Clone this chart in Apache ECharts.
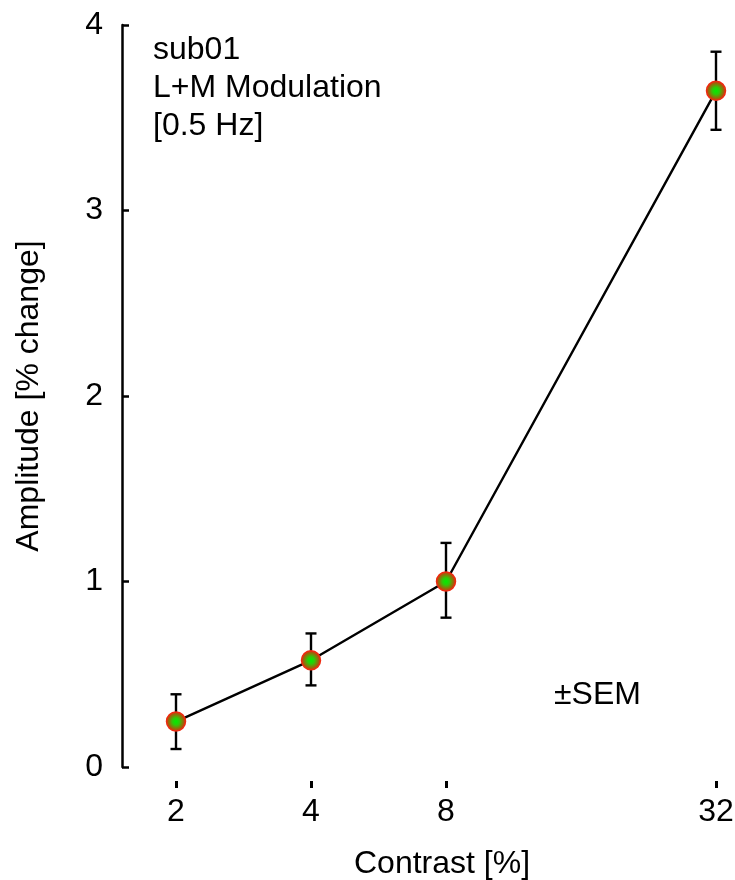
<!DOCTYPE html>
<html>
<head>
<meta charset="utf-8">
<script src="https://cdn.jsdelivr.net/npm/echarts@6/dist/echarts.min.js"></script>
<style>
  html, body { margin: 0; padding: 0; background: #fff; }
  #chart { width: 735px; height: 880px; }
</style>
</head>
<body>
<div id="chart"></div>
<script>
// ---- data ----
const contrast = [2, 4, 8, 32];
const amplitude = [0.245, 0.575, 1.0, 3.645];
const semUpper = [0.392, 0.72, 1.208, 3.856];
const semLower = [0.097, 0.44, 0.805, 3.435];
const xTickValues = [2, 4, 8, 32];
const annotationLines = ['sub01', 'L+M Modulation', '[0.5 Hz]'];
const semLabel = '\u00B1SEM';
const xTitle = 'Contrast [%]';
const yTitle = 'Amplitude [% change]';

const FONT = '"Liberation Sans", Arial, Helvetica, sans-serif';

const pointData = contrast.map((c, i) => [c, amplitude[i]]);
const errData = contrast.map((c, i) => [c, semLower[i], semUpper[i]]);

const chart = echarts.init(document.getElementById('chart'), null, { renderer: 'canvas' });

const option = {
  backgroundColor: '#ffffff',
  animation: false,
  grid: { left: 122, right: 5, top: 25, bottom: 113, containLabel: false, outerBoundsMode: 'none' },
  xAxis: {
    type: 'log',
    logBase: 2,
    min: Math.pow(2, 0.6),
    max: Math.pow(2, 5.1037),
    offset: 21,
    name: xTitle,
    nameLocation: 'middle',
    nameGap: 60,
    nameTextStyle: { fontFamily: FONT, fontSize: 32, color: '#000', padding: [0, 0, 0, 32] },
    axisLine: { show: false, onZero: false },
    axisTick: { show: true, inside: true, length: 7, lineStyle: { color: '#000', width: 3 }, customValues: xTickValues },
    axisLabel: { show: true, margin: 8, fontFamily: FONT, fontSize: 32, color: '#000', customValues: xTickValues },
    splitLine: { show: false },
    minorTick: { show: false }
  },
  yAxis: {
    type: 'value',
    min: 0,
    max: 4,
    interval: 1,
    name: yTitle,
    nameLocation: 'middle',
    nameGap: 77,
    nameRotate: 90,
    nameTextStyle: { fontFamily: FONT, fontSize: 32, color: '#000' },
    axisLine: { show: true, onZero: false, lineStyle: { color: '#000', width: 2.5 } },
    axisTick: { show: true, inside: true, length: 7, lineStyle: { color: '#000', width: 2.5 } },
    axisLabel: { margin: 19, fontFamily: FONT, fontSize: 32, color: '#000' },
    splitLine: { show: false }
  },
  graphic: [
    {
      type: 'text',
      left: 153,
      top: 31,
      z: 10,
      style: {
        text: annotationLines.join('\n'),
        font: '32px ' + FONT,
        lineHeight: 38,
        fill: '#000'
      }
    },
    {
      type: 'text',
      left: 554,
      top: 679,
      z: 10,
      style: {
        text: semLabel,
        font: '32px ' + FONT,
        fill: '#000'
      }
    }
  ],
  series: [
    {
      type: 'custom',
      z: 1,
      data: errData,
      renderItem: function (params, api) {
        const x = api.value(0);
        const lo = api.coord([x, api.value(1)]);
        const hi = api.coord([x, api.value(2)]);
        const hw = 5.5;
        const style = { stroke: '#000', lineWidth: 2.4, fill: null };
        return {
          type: 'group',
          children: [
            { type: 'line', shape: { x1: lo[0], y1: lo[1], x2: hi[0], y2: hi[1] }, style: style },
            { type: 'line', shape: { x1: lo[0] - hw, y1: lo[1], x2: lo[0] + hw, y2: lo[1] }, style: style },
            { type: 'line', shape: { x1: hi[0] - hw, y1: hi[1], x2: hi[0] + hw, y2: hi[1] }, style: style }
          ]
        };
      }
    },
    {
      type: 'line',
      z: 5,
      data: pointData,
      symbol: 'circle',
      symbolSize: 19,
      showSymbol: true,
      lineStyle: { color: '#000', width: 2.4 },
      itemStyle: {
        color: {
          type: 'radial', x: 0.5, y: 0.5, r: 0.5,
          colorStops: [
            { offset: 0, color: '#00ee00' },
            { offset: 0.35, color: '#30c808' },
            { offset: 0.75, color: '#a0600a' },
            { offset: 1, color: '#dd3010' }
          ]
        },
        borderColor: '#ee2a10',
        borderWidth: 1.5
      },
      emphasis: { disabled: true }
    }
  ]
};

chart.setOption(option);
</script>
</body>
</html>
